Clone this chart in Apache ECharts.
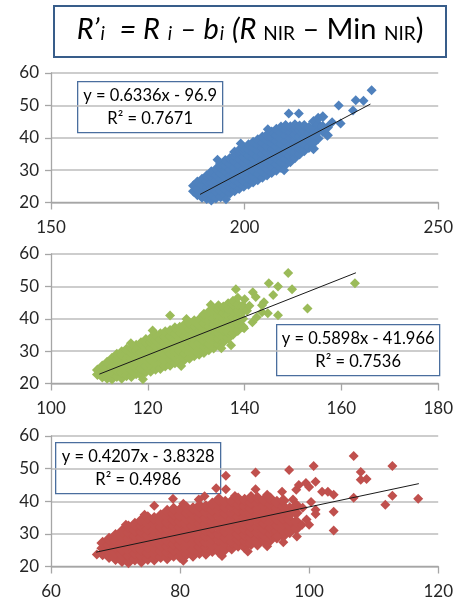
<!DOCTYPE html>
<html>
<head>
<meta charset="utf-8">
<script src="https://cdn.jsdelivr.net/npm/echarts@6/dist/echarts.min.js"></script>
<style>
  html, body { margin: 0; padding: 0; background: #fff; }
  #chart { width: 456px; height: 601px; }
</style>
</head>
<body>
<div id="chart"></div>
<script>
// dense part of each cloud: x, then the y values read at that x
var blueCloud = [
  [186.8, 23.5, 25.2],
  [187.8, 22.4, 24.2, 26.3],
  [189.0, 21.6, 23.4, 25.3, 27.2],
  [190.2, 21.2, 23.0, 24.8, 26.6, 28.3],
  [191.4, 20.8, 22.6, 24.4, 26.2, 28.0, 29.5],
  [192.6, 21.4, 23.2, 25.0, 26.8, 28.6, 30.3],
  [193.8, 21.8, 23.6, 25.4, 27.2, 29.0, 30.8, 32.0],
  [195.0, 22.4, 24.2, 26.0, 27.8, 29.6, 31.4, 33.0],
  [196.2, 22.9, 24.7, 26.5, 28.3, 30.1, 31.9, 33.6],
  [197.4, 23.6, 25.4, 27.2, 29.0, 30.8, 32.6, 34.4, 35.6],
  [198.6, 24.3, 26.1, 27.9, 29.7, 31.5, 33.3, 35.1, 36.2],
  [199.8, 25.0, 26.8, 28.6, 30.4, 32.2, 34.0, 35.8, 37.0],
  [201.0, 25.6, 27.4, 29.2, 31.0, 32.8, 34.6, 36.4, 37.8],
  [202.2, 26.3, 28.1, 29.9, 31.7, 33.5, 35.3, 37.1, 38.6],
  [203.4, 27.0, 28.8, 30.6, 32.4, 34.2, 36.0, 37.8, 39.4],
  [204.6, 27.8, 29.6, 31.4, 33.2, 35.0, 36.8, 38.6, 40.2],
  [205.8, 28.5, 30.3, 32.1, 33.9, 35.7, 37.5, 39.3, 40.9],
  [207.0, 29.3, 31.1, 32.9, 34.7, 36.5, 38.3, 40.1, 41.8],
  [208.2, 30.0, 31.8, 33.6, 35.4, 37.2, 39.0, 40.8, 42.6],
  [209.4, 30.8, 32.6, 34.4, 36.2, 38.0, 39.8, 41.6, 43.3],
  [210.6, 31.7, 33.5, 35.3, 37.1, 38.9, 40.7, 42.5, 43.8],
  [211.8, 32.6, 34.4, 36.2, 38.0, 39.8, 41.6, 43.4],
  [213.0, 33.8, 35.6, 37.4, 39.2, 41.0, 42.8, 44.0],
  [214.2, 35.0, 36.8, 38.6, 40.4, 42.2, 43.6],
  [215.4, 36.0, 38.0, 40.0, 42.0, 43.8],
  [216.6, 37.0, 39.4, 41.5, 43.2],
  [217.8, 36.6, 38.4, 41.0, 43.0, 45.0],
  [219.0, 39.8, 42.0, 44.2, 46.0],
  [220.2, 41.9, 43.5, 46.5],
  [221.4, 40.8, 43.2]
];
var blueOut = [
  [193.0, 33.2], [195.2, 21.0], [199.0, 38.2], [206.0, 42.6], [210.2, 30.0],
  [211.4, 47.5], [214.0, 47.5], [222.6, 44.8], [224.3, 50.0], [224.8, 44.4],
  [228.0, 48.4], [228.7, 51.6], [230.7, 51.4], [232.8, 54.7]
];

var greenCloud = [
  [109.6, 22.8, 24.2],
  [110.6, 22.0, 23.8, 25.4],
  [111.6, 21.6, 23.4, 25.2, 26.6],
  [112.6, 21.4, 23.2, 25.0, 26.8, 27.8],
  [113.6, 22.2, 24.0, 25.8, 27.6, 29.0],
  [114.6, 21.6, 23.4, 25.2, 27.0, 28.8, 29.8],
  [115.6, 22.4, 24.2, 26.0, 27.8, 29.6, 30.6],
  [116.6, 22.2, 24.0, 25.8, 27.6, 29.4, 31.0],
  [117.6, 23.0, 24.8, 26.6, 28.4, 30.2, 31.8],
  [118.6, 22.6, 24.4, 26.2, 28.0, 29.8, 31.6, 32.6],
  [119.6, 23.6, 25.4, 27.2, 29.0, 30.8, 32.6, 33.6],
  [120.6, 23.8, 25.6, 27.4, 29.2, 31.0, 32.8, 34.0],
  [121.6, 24.4, 26.2, 28.0, 29.8, 31.6, 33.4, 35.0],
  [122.6, 24.6, 26.4, 28.2, 30.0, 31.8, 33.6, 35.4],
  [123.6, 25.4, 27.2, 29.0, 30.8, 32.6, 34.4, 36.0],
  [124.6, 25.6, 27.4, 29.2, 31.0, 32.8, 34.6, 36.4],
  [125.6, 26.4, 28.2, 30.0, 31.8, 33.6, 35.4, 37.2],
  [126.6, 26.6, 28.4, 30.2, 32.0, 33.8, 35.6, 37.4],
  [127.6, 27.4, 29.2, 31.0, 32.8, 34.6, 36.4, 38.2],
  [128.6, 27.8, 29.6, 31.4, 33.2, 35.0, 36.8, 38.6],
  [129.6, 28.6, 30.4, 32.2, 34.0, 35.8, 37.6, 39.4],
  [130.6, 29.0, 30.8, 32.6, 34.4, 36.2, 38.0, 39.8],
  [131.6, 29.6, 31.4, 33.2, 35.0, 36.8, 38.6, 40.4, 41.4],
  [132.6, 30.4, 32.2, 34.0, 35.8, 37.6, 39.4, 41.2, 42.2],
  [133.6, 31.0, 32.8, 34.6, 36.4, 38.2, 40.0, 41.8, 43.0],
  [134.6, 32.0, 33.8, 35.6, 37.4, 39.2, 41.0, 42.8, 44.0],
  [135.6, 32.8, 34.6, 36.4, 38.2, 40.0, 41.8, 43.6],
  [136.6, 34.0, 35.8, 37.6, 39.4, 41.2, 43.0, 44.6],
  [137.6, 35.2, 37.0, 38.8, 40.6, 42.4, 44.2, 45.4],
  [138.6, 36.4, 38.4, 40.4, 42.4, 44.4],
  [139.6, 37.6, 40.0, 42.2, 44.0]
];
var greenOut = [
  [116.5, 32.4], [121.0, 36.4], [128.0, 39.9], [133.0, 44.3], [119.0, 21.3], [126.9, 25.4],
  [124.6, 41.0], [138.6, 46.5],
  [138.2, 49.1], [141.7, 48.2], [142.3, 46.7], [145.0, 51.0], [145.9, 47.3],
  [146.9, 50.0], [149.0, 54.1], [149.8, 49.1], [146.9, 41.1], [144.8, 41.7],
  [153.0, 43.2], [162.8, 51.0], [144.0, 45.1], [143.6, 44.2], [143.6, 42.0],
  [139.9, 37.1], [141.6, 38.9], [139.3, 39.5], [137.2, 31.8], [135.2, 30.9],
  [140.5, 42.5], [141.0, 44.0], [142.5, 40.5], [140.0, 46.0]
];

var redCloud = [
  [68.0, 23.8, 25.6, 27.2],
  [69.0, 23.0, 24.8, 26.6, 28.4],
  [70.0, 22.4, 24.2, 26.0, 27.8, 29.6],
  [71.0, 21.8, 23.6, 25.4, 27.2, 29.0, 30.8],
  [72.0, 21.4, 23.2, 25.0, 26.8, 28.6, 30.4, 32.2],
  [73.0, 22.2, 24.0, 25.8, 27.6, 29.4, 31.2, 33.0],
  [74.0, 21.6, 23.4, 25.2, 27.0, 28.8, 30.6, 32.4, 34.2],
  [75.0, 22.4, 24.2, 26.0, 27.8, 29.6, 31.4, 33.2, 35.0],
  [76.0, 22.2, 24.0, 25.8, 27.6, 29.4, 31.2, 33.0, 34.8],
  [77.0, 23.0, 24.8, 26.6, 28.4, 30.2, 32.0, 33.8, 35.6],
  [78.0, 22.6, 24.4, 26.2, 28.0, 29.8, 31.6, 33.4, 35.2, 37.0],
  [79.0, 23.4, 25.2, 27.0, 28.8, 30.6, 32.4, 34.2, 36.0, 37.6],
  [80.0, 23.0, 24.8, 26.6, 28.4, 30.2, 32.0, 33.8, 35.6, 37.4],
  [81.0, 23.8, 25.6, 27.4, 29.2, 31.0, 32.8, 34.6, 36.4, 38.0],
  [82.0, 23.4, 25.2, 27.0, 28.8, 30.6, 32.4, 34.2, 36.0, 37.8],
  [83.0, 24.2, 26.0, 27.8, 29.6, 31.4, 33.2, 35.0, 36.8, 38.6],
  [84.0, 24.0, 25.8, 27.6, 29.4, 31.2, 33.0, 34.8, 36.6, 38.4],
  [85.0, 24.8, 26.6, 28.4, 30.2, 32.0, 33.8, 35.6, 37.4, 39.2],
  [86.0, 24.6, 26.4, 28.2, 30.0, 31.8, 33.6, 35.4, 37.2, 39.0, 40.6],
  [87.0, 25.4, 27.2, 29.0, 30.8, 32.6, 34.4, 36.2, 38.0, 39.8],
  [88.0, 25.6, 27.4, 29.2, 31.0, 32.8, 34.6, 36.4, 38.2, 40.0],
  [89.0, 26.4, 28.2, 30.0, 31.8, 33.6, 35.4, 37.2, 39.0, 40.8],
  [90.0, 26.0, 27.8, 29.6, 31.4, 33.2, 35.0, 36.8, 38.6, 40.4],
  [91.0, 27.0, 28.8, 30.6, 32.4, 34.2, 36.0, 37.8, 39.6, 41.2],
  [92.0, 26.8, 28.6, 30.4, 32.2, 34.0, 35.8, 37.6, 39.4, 41.0],
  [93.0, 27.8, 29.6, 31.4, 33.2, 35.0, 36.8, 38.6, 40.4],
  [94.0, 28.2, 30.0, 31.8, 33.6, 35.4, 37.2, 39.0, 40.8],
  [95.0, 29.0, 30.8, 32.6, 34.4, 36.2, 38.0, 39.8],
  [96.0, 29.4, 31.2, 33.0, 34.8, 36.6, 38.4, 40.2],
  [97.0, 30.6, 32.4, 34.2, 36.0, 37.8],
  [98.0, 31.6, 33.8, 36.4, 38.8]
];
var redOut = [
  [80.5, 21.8], [86.5, 23.2], [90.5, 24.6], [93.5, 26.2], [96.0, 27.4],
  [74.5, 35.9], [80.5, 39.2], [88.5, 41.6], [93.5, 42.0], [71.6, 32.8],
  [67.1, 23.7], [76.0, 38.6], [78.9, 40.8], [82.9, 40.5], [83.8, 41.5],
  [85.6, 44.0], [87.1, 43.7], [87.1, 47.8], [91.7, 48.8], [91.7, 43.7],
  [96.9, 49.6], [100.7, 50.8], [98.0, 43.5], [95.8, 42.9], [98.4, 45.0],
  [99.5, 45.6], [100.0, 44.4], [101.0, 46.0], [102.0, 42.9], [102.9, 42.9],
  [103.8, 42.0], [100.3, 39.8], [101.0, 37.4], [101.0, 36.1], [103.8, 36.8],
  [103.8, 31.0], [98.9, 32.8], [98.1, 29.2], [95.0, 29.2], [91.8, 27.3],
  [100.0, 32.8], [99.6, 34.4], [99.0, 38.0], [97.5, 40.5], [106.9, 53.9],
  [112.9, 50.8], [108.0, 49.0], [108.0, 46.6], [108.9, 46.8], [106.9, 41.1],
  [112.9, 41.7], [111.8, 38.9], [116.9, 40.8]
];

// trend line end points
var blueTrend = [[188.5, 22.5], [232.5, 50.4]];
var greenTrend = [[110.0, 22.9], [163.0, 54.2]];
var redTrend = [[67.0, 24.4], [117.0, 45.4]];

var eqTexts = [
  'y = 0.6336x - 96.9\nR² = 0.7671',
  'y = 0.5898x - 41.966\nR² = 0.7536',
  'y = 0.4207x - 3.8328\nR² = 0.4986'
];

var xRanges = [[150, 250, 50], [100, 180, 20], [60, 120, 20]];
var yRange = [20, 60, 10];

function expand(cols) {
  var out = [];
  cols.forEach(function(c) {
    for (var k = 1; k < c.length; k++) out.push([c[0], c[k]]);
  });
  return out;
}

var FONT = 'Lato';
var gridTops = [73, 254, 436];
var gridHeights = [129.5, 129.5, 130.5];

var grids = [], xAxes = [], yAxes = [];
for (var i = 0; i < 3; i++) {
  grids.push({ left: 51, width: 389, top: gridTops[i], height: gridHeights[i] });
  xAxes.push({
    gridIndex: i, type: 'value',
    min: xRanges[i][0], max: xRanges[i][1], interval: xRanges[i][2],
    axisLine: { show: true, lineStyle: { color: '#A6A6A6', width: 1.3 } },
    axisTick: { show: true, length: 7, lineStyle: { color: '#A6A6A6', width: 1.3 } },
    axisLabel: { fontFamily: FONT, fontSize: 17, color: '#262626', margin: 17 },
    splitLine: { show: false }
  });
  yAxes.push({
    gridIndex: i, type: 'value',
    min: yRange[0], max: yRange[1], interval: yRange[2],
    axisLine: { show: true, lineStyle: { color: '#A6A6A6', width: 1.3 } },
    axisTick: { show: true, length: 6, lineStyle: { color: '#A6A6A6', width: 1.3 } },
    axisLabel: { fontFamily: FONT, fontSize: 17, color: '#262626', margin: 12 },
    splitLine: { show: true, lineStyle: { color: '#BDBDBD', width: 1.5 } }
  });
}

function scatter(idx, pts, color, size) {
  return {
    type: 'scatter', xAxisIndex: idx, yAxisIndex: idx,
    symbol: 'diamond', symbolSize: size,
    itemStyle: { color: color, opacity: 1 },
    data: pts, z: 2
  };
}
function trend(idx, pts) {
  return {
    type: 'line', xAxisIndex: idx, yAxisIndex: idx,
    symbol: 'none', lineStyle: { color: '#1a1a1a', width: 1 },
    data: pts, z: 3
  };
}

function eqBox(x, y, w, h, text) {
  return {
    type: 'group', left: x, top: y, z: 10,
    children: [
      { type: 'rect', shape: { x: 0, y: 0, width: w, height: h },
        style: { fill: '#fff', stroke: '#4A6E9E', lineWidth: 1.3 } },
      { type: 'text', x: w / 2, y: h / 2,
        style: { text: text, fontFamily: FONT, fontSize: 16.5, fill: '#000',
                 align: 'center', verticalAlign: 'middle', lineHeight: 23 } }
    ]
  };
}

var chart = echarts.init(document.getElementById('chart'));
chart.setOption({
  animation: false,
  backgroundColor: '#fff',
  grid: grids,
  xAxis: xAxes,
  yAxis: yAxes,
  series: [
    scatter(0, expand(blueCloud), '#4F81BD', 11), scatter(0, blueOut, '#4F81BD', 10), trend(0, blueTrend),
    scatter(1, expand(greenCloud), '#9BBB59', 11), scatter(1, greenOut, '#9BBB59', 10), trend(1, greenTrend),
    scatter(2, expand(redCloud), '#C0504D', 12.5), scatter(2, redOut, '#C0504D', 10), trend(2, redTrend)
  ],
  graphic: [
    {
      type: 'group', left: 53, top: 5, z: 10,
      children: [
        { type: 'rect', shape: { x: 0, y: 0, width: 392, height: 51 },
          style: { fill: '#fff', stroke: '#385D8A', lineWidth: 2 } },
        { type: 'text', x: 196, y: 28,
          style: {
            text: '{m|R’}{s|i}{m|  = R }{s|i}{m| – b}{s|i}{m| (R }{n|NIR}{u| – Min }{n|NIR}{u|)}',
            align: 'center', verticalAlign: 'middle', fill: '#000',
            rich: {
              m: { fontFamily: FONT, fontStyle: 'italic', fontSize: 29, lineHeight: 30, padding: [0, 0, 9, 0], fill: '#000' },
              u: { fontFamily: FONT, fontSize: 29, lineHeight: 30, padding: [0, 0, 9, 0], fill: '#000' },
              s: { fontFamily: FONT, fontStyle: 'italic', fontSize: 19, lineHeight: 18, padding: [0, 1, 0, 1], fill: '#000' },
              n: { fontFamily: FONT, fontSize: 19, lineHeight: 18, fill: '#000' }
            }
          } }
      ]
    },
    eqBox(77, 81, 145, 51, eqTexts[0]),
    eqBox(276, 324, 163, 51, eqTexts[1]),
    eqBox(55, 442, 165, 51, eqTexts[2])
  ]
});
</script>
</body>
</html>
